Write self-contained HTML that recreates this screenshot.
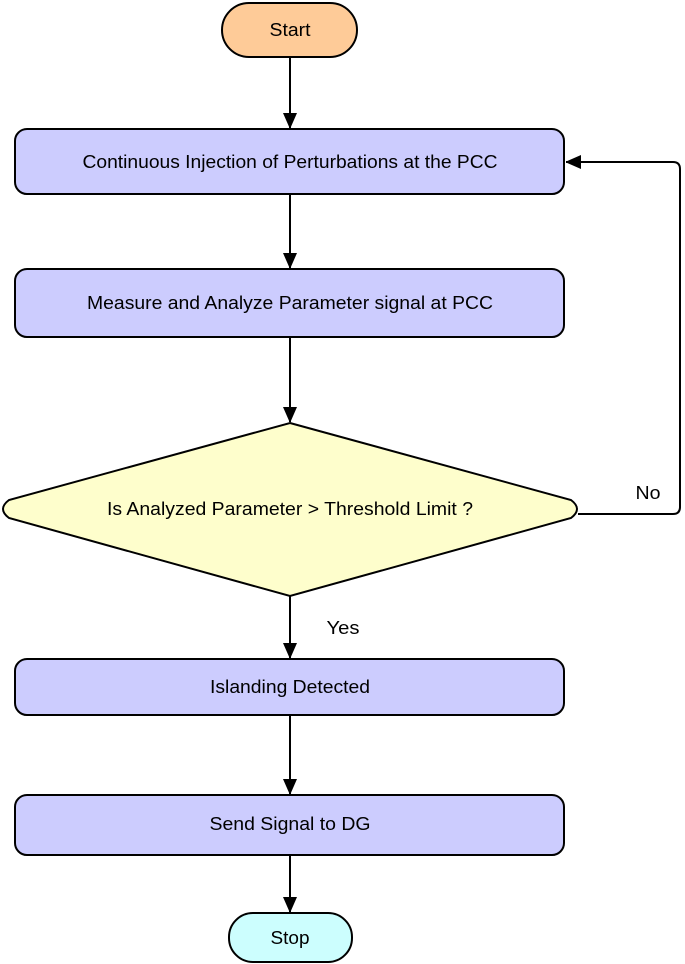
<!DOCTYPE html>
<html><head><meta charset="utf-8"><style>html,body{margin:0;padding:0;background:#fff}svg{display:block}</style></head><body>
<svg width="685" height="964" viewBox="0 0 685 964" xmlns="http://www.w3.org/2000/svg" font-family="Liberation Sans, Arial, sans-serif" font-size="18" fill="#000">
<defs><marker id="a" markerWidth="14" markerHeight="16" refX="15" refY="7" orient="auto" markerUnits="userSpaceOnUse"><path d="M0,0 L16,7 L0,14 z" fill="#000"/></marker></defs>
<g stroke="#000" stroke-width="2" fill="none">
<line x1="290" y1="57" x2="290" y2="128" marker-end="url(#a)"/>
<line x1="290" y1="194" x2="290" y2="268" marker-end="url(#a)"/>
<line x1="290" y1="337" x2="290" y2="422" marker-end="url(#a)"/>
<line x1="290" y1="596" x2="290" y2="658" marker-end="url(#a)"/>
<line x1="290" y1="715" x2="290" y2="794" marker-end="url(#a)"/>
<line x1="290" y1="855" x2="290" y2="912" marker-end="url(#a)"/>
<path d="M578,514 L673,514 Q680,514 680,507 L680,169 Q680,162 673,162 L566,162" marker-end="url(#a)"/>
</g>
<g stroke="#000" stroke-width="2">
<rect x="222" y="3" width="135" height="54" rx="27" fill="#fecb98"/>
<rect x="15" y="129" width="549" height="65" rx="12" fill="#ccccfe"/>
<rect x="15" y="269" width="549" height="68" rx="12" fill="#ccccfe"/>
<path d="M290,423 L571,500 Q583,509 571,518 L290,596 L9,518 Q-3,509 9,500 Z" fill="#fefecc"/>
<rect x="15" y="659" width="549" height="56" rx="12" fill="#ccccfe"/>
<rect x="15" y="795" width="549" height="60" rx="12" fill="#ccccfe"/>
<rect x="229" y="913" width="123" height="49" rx="24" fill="#ccfefe"/>
</g>
<g text-anchor="middle" stroke="none">
<text x="290" y="36" textLength="41" lengthAdjust="spacingAndGlyphs">Start</text>
<text x="290" y="168" textLength="415" lengthAdjust="spacingAndGlyphs">Continuous Injection of Perturbations at the PCC</text>
<text x="290" y="309" textLength="406" lengthAdjust="spacingAndGlyphs">Measure and Analyze Parameter signal at PCC</text>
<text x="290" y="515" textLength="366" lengthAdjust="spacingAndGlyphs">Is Analyzed Parameter &gt; Threshold Limit ?</text>
<text x="290" y="693" textLength="160" lengthAdjust="spacingAndGlyphs">Islanding Detected</text>
<text x="290" y="830" textLength="161" lengthAdjust="spacingAndGlyphs">Send Signal to DG</text>
<text x="290" y="944" textLength="39" lengthAdjust="spacingAndGlyphs">Stop</text>
<text x="648" y="499" textLength="25" lengthAdjust="spacingAndGlyphs">No</text>
<text x="343" y="634" textLength="33" lengthAdjust="spacingAndGlyphs">Yes</text>
</g>
</svg>
</body></html>
